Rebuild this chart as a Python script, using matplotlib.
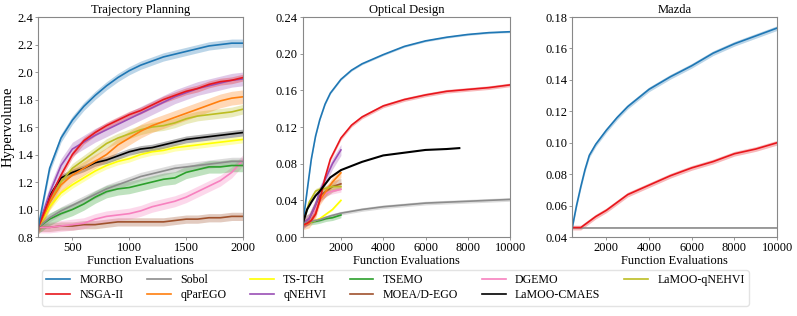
import numpy as np
import matplotlib
matplotlib.use("Agg")
import matplotlib.pyplot as plt
from matplotlib.ticker import FormatStrFormatter

plt.rcParams["font.family"] = ["Liberation Serif", "DejaVu Serif"]
plt.rcParams["font.size"] = 9

names = ["MORBO", "NSGA-II", "Sobol", "qParEGO", "TS-TCH", "qNEHVI",
         "TSEMO", "MOEA/D-EGO", "DGEMO", "LaMOO-CMAES", "LaMOO-qNEHVI"]
colors = {"MORBO": "#1f77b4", "NSGA-II": "#e8161c", "Sobol": "#8c8c8c",
          "qParEGO": "#ff7f0e", "TS-TCH": "#ffff00", "qNEHVI": "#9a4fb5",
          "TSEMO": "#2ca02c", "MOEA/D-EGO": "#a0522d", "DGEMO": "#f781bf",
          "LaMOO-CMAES": "#000000", "LaMOO-qNEHVI": "#bcbd22"}

# ---- Trajectory Planning ----
traj_x = np.arange(200, 2001, 100)
traj = {
    "MORBO": [0.87, 1.30, 1.52, 1.65, 1.75, 1.83, 1.90, 1.96, 2.01, 2.05, 2.08, 2.11, 2.13, 2.15, 2.17, 2.19, 2.20, 2.21, 2.21],
    "NSGA-II": [0.87, 1.08, 1.25, 1.40, 1.50, 1.56, 1.61, 1.65, 1.69, 1.72, 1.76, 1.80, 1.83, 1.86, 1.88, 1.91, 1.93, 1.94, 1.96],
    "qNEHVI": [0.87, 1.12, 1.32, 1.44, 1.49, 1.54, 1.58, 1.62, 1.66, 1.70, 1.74, 1.78, 1.82, 1.85, 1.88, 1.90, 1.92, 1.94, 1.95],
    "qParEGO": [0.87, 1.05, 1.18, 1.25, 1.30, 1.35, 1.40, 1.47, 1.52, 1.57, 1.61, 1.64, 1.67, 1.70, 1.73, 1.76, 1.79, 1.81, 1.82],
    "LaMOO-qNEHVI": [0.87, 1.05, 1.20, 1.30, 1.36, 1.42, 1.48, 1.52, 1.55, 1.58, 1.60, 1.61, 1.63, 1.66, 1.68, 1.69, 1.70, 1.71, 1.73],
    "LaMOO-CMAES": [0.87, 1.10, 1.23, 1.27, 1.30, 1.34, 1.36, 1.39, 1.42, 1.44, 1.45, 1.47, 1.49, 1.51, 1.52, 1.53, 1.54, 1.55, 1.56],
    "TS-TCH": [0.87, 1.02, 1.12, 1.18, 1.23, 1.28, 1.32, 1.35, 1.37, 1.40, 1.42, 1.43, 1.45, 1.46, 1.47, 1.48, 1.49, 1.50, 1.51],
    "Sobol": [0.87, 0.94, 0.99, 1.03, 1.07, 1.11, 1.15, 1.18, 1.21, 1.24, 1.26, 1.28, 1.30, 1.31, 1.32, 1.33, 1.34, 1.35, 1.35],
    "TSEMO": [0.87, 0.93, 0.97, 1.00, 1.04, 1.09, 1.13, 1.15, 1.16, 1.18, 1.20, 1.22, 1.23, 1.27, 1.29, 1.31, 1.31, 1.32, 1.32],
    "DGEMO": [0.87, 0.87, 0.88, 0.89, 0.90, 0.93, 0.95, 0.96, 0.97, 0.99, 1.02, 1.04, 1.06, 1.09, 1.13, 1.17, 1.21, 1.27, 1.36],
    "MOEA/D-EGO": [0.87, 0.87, 0.88, 0.88, 0.89, 0.89, 0.90, 0.91, 0.91, 0.91, 0.91, 0.91, 0.92, 0.93, 0.93, 0.94, 0.94, 0.95, 0.95],
}
traj_band = {"MORBO": 0.03, "NSGA-II": 0.025, "qNEHVI": 0.05, "qParEGO": 0.05,
             "LaMOO-qNEHVI": 0.035, "LaMOO-CMAES": 0.025, "TS-TCH": 0.025,
             "Sobol": 0.03, "TSEMO": 0.045, "DGEMO": 0.04, "MOEA/D-EGO": 0.03}

# ---- Optical Design ----
opt_long_x = [200, 400, 600, 800, 1000, 1250, 1500, 2000, 2500, 3000, 4000, 5000, 6000, 7000, 8000, 9000, 10000]
opt_long = {
    "MORBO": [0.015, 0.05, 0.085, 0.110, 0.128, 0.145, 0.157, 0.172, 0.182, 0.189, 0.199, 0.208, 0.214, 0.218, 0.221, 0.223, 0.224],
    "NSGA-II": [0.013, 0.015, 0.018, 0.025, 0.04, 0.065, 0.085, 0.108, 0.122, 0.131, 0.143, 0.150, 0.155, 0.159, 0.161, 0.163, 0.166],
    "Sobol": [0.015, 0.016, 0.017, 0.018, 0.019, 0.021, 0.023, 0.026, 0.028, 0.030, 0.033, 0.035, 0.037, 0.038, 0.039, 0.040, 0.041],
}
opt_cmaes_x = [200, 400, 600, 800, 1000, 1500, 2000, 3000, 4000, 5000, 6000, 7000, 7600]
opt_cmaes = [0.015, 0.03, 0.038, 0.045, 0.05, 0.065, 0.073, 0.082, 0.089, 0.092, 0.095, 0.096, 0.097]
opt_short_x = [200, 500, 800, 1000, 1300, 1600, 2000]
opt_short = {
    "qNEHVI": [0.015, 0.02, 0.035, 0.05, 0.065, 0.08, 0.095],
    "qParEGO": [0.013, 0.015, 0.025, 0.04, 0.05, 0.06, 0.07],
    "MOEA/D-EGO": [0.015, 0.02, 0.035, 0.045, 0.05, 0.055, 0.058],
    "LaMOO-qNEHVI": [0.015, 0.038, 0.05, 0.052, 0.053, 0.055, 0.055],
    "DGEMO": [0.015, 0.02, 0.03, 0.04, 0.048, 0.05, 0.052],
    "TS-TCH": [0.015, 0.016, 0.018, 0.02, 0.025, 0.03, 0.04],
    "TSEMO": [0.015, 0.016, 0.017, 0.018, 0.02, 0.021, 0.024],
}
opt_band = {"MORBO": 0.001, "NSGA-II": 0.002, "Sobol": 0.002, "qNEHVI": 0.006,
            "qParEGO": 0.005, "MOEA/D-EGO": 0.006, "LaMOO-qNEHVI": 0.003,
            "DGEMO": 0.003, "TS-TCH": 0.001, "TSEMO": 0.003}

# ---- Mazda ----
maz_x = [400, 600, 800, 1000, 1200, 1500, 2000, 2500, 3000, 4000, 5000, 6000, 7000, 8000, 9000, 10000]
mazda = {
    "MORBO": [0.046, 0.060, 0.072, 0.083, 0.092, 0.099, 0.108, 0.116, 0.123, 0.134, 0.142, 0.149, 0.157, 0.163, 0.168, 0.173],
    "NSGA-II": [0.046, 0.046, 0.046, 0.048, 0.050, 0.053, 0.057, 0.062, 0.067, 0.073, 0.079, 0.084, 0.088, 0.093, 0.096, 0.100],
    "Sobol": [0.046] * 16,
}
maz_band = {"MORBO": 0.0015, "NSGA-II": 0.0015, "Sobol": 0.0003}

fig = plt.figure(figsize=(7.97, 3.16), dpi=100)
ax1 = fig.add_axes([0.048, 0.25, 0.257, 0.696])
ax2 = fig.add_axes([0.380, 0.25, 0.260, 0.696])
ax3 = fig.add_axes([0.718, 0.25, 0.257, 0.696])


def draw(ax, x, y, name, band, lw=1.2):
    y = np.asarray(y)
    ax.fill_between(x, y - band, y + band, color=colors[name], alpha=0.3, lw=0)
    ax.plot(x, y, color=colors[name], lw=lw, label=name)


order1 = ["MOEA/D-EGO", "DGEMO", "TSEMO", "Sobol", "TS-TCH", "LaMOO-CMAES",
          "LaMOO-qNEHVI", "qParEGO", "qNEHVI", "NSGA-II", "MORBO"]
for n in order1:
    draw(ax1, traj_x, traj[n], n, traj_band[n])

for n in ["TSEMO", "TS-TCH", "DGEMO", "MOEA/D-EGO", "qParEGO", "qNEHVI", "LaMOO-qNEHVI"]:
    draw(ax2, opt_short_x, opt_short[n], n, opt_band[n])
for n in ["Sobol", "NSGA-II", "MORBO"]:
    draw(ax2, opt_long_x, opt_long[n], n, opt_band[n])
ax2.plot(opt_cmaes_x, opt_cmaes, color=colors["LaMOO-CMAES"], lw=1.5)

for n in ["Sobol", "NSGA-II", "MORBO"]:
    draw(ax3, maz_x, mazda[n], n, maz_band[n])

ax1.set_xlim(200, 2000)
ax1.set_ylim(0.8, 2.4)
ax1.set_xticks([500, 1000, 1500, 2000])
ax1.set_yticks(np.arange(0.8, 2.41, 0.2))
ax1.yaxis.set_major_formatter(FormatStrFormatter("%.1f"))
ax1.set_ylabel("Hypervolume", fontsize=10.5, labelpad=2)
ax1.set_title("Trajectory Planning", fontsize=9, pad=3)

ax2.set_xlim(200, 10000)
ax2.set_ylim(0, 0.24)
ax2.set_xticks([2000, 4000, 6000, 8000, 10000])
ax2.set_yticks(np.arange(0, 0.241, 0.04))
ax2.yaxis.set_major_formatter(FormatStrFormatter("%.2f"))
ax2.set_title("Optical Design", fontsize=9, pad=3)

ax3.set_xlim(400, 10000)
ax3.set_ylim(0.04, 0.18)
ax3.set_xticks([2000, 4000, 6000, 8000, 10000])
ax3.set_yticks(np.arange(0.04, 0.181, 0.02))
ax3.yaxis.set_major_formatter(FormatStrFormatter("%.2f"))
ax3.set_title("Mazda", fontsize=9, pad=3)

for ax in (ax1, ax2, ax3):
    ax.set_xlabel("Function Evaluations", fontsize=9, labelpad=1)
    ax.tick_params(labelsize=9, length=2, width=0.6, color="#888888", pad=1.5)
    for s in ax.spines.values():
        s.set_color("#888888")
        s.set_linewidth(0.8)

handles = [plt.Line2D([], [], color=colors[n], lw=1.2) for n in names]
fig.legend(handles, names, ncol=6, loc="lower center",
           bbox_to_anchor=(0.496, 0.014), fontsize=8.6, frameon=True,
           edgecolor="#dddddd", handlelength=2.0, handletextpad=0.8,
           columnspacing=1.95, borderpad=0.35, labelspacing=0.25)

fig.savefig("out.png", dpi=100)
